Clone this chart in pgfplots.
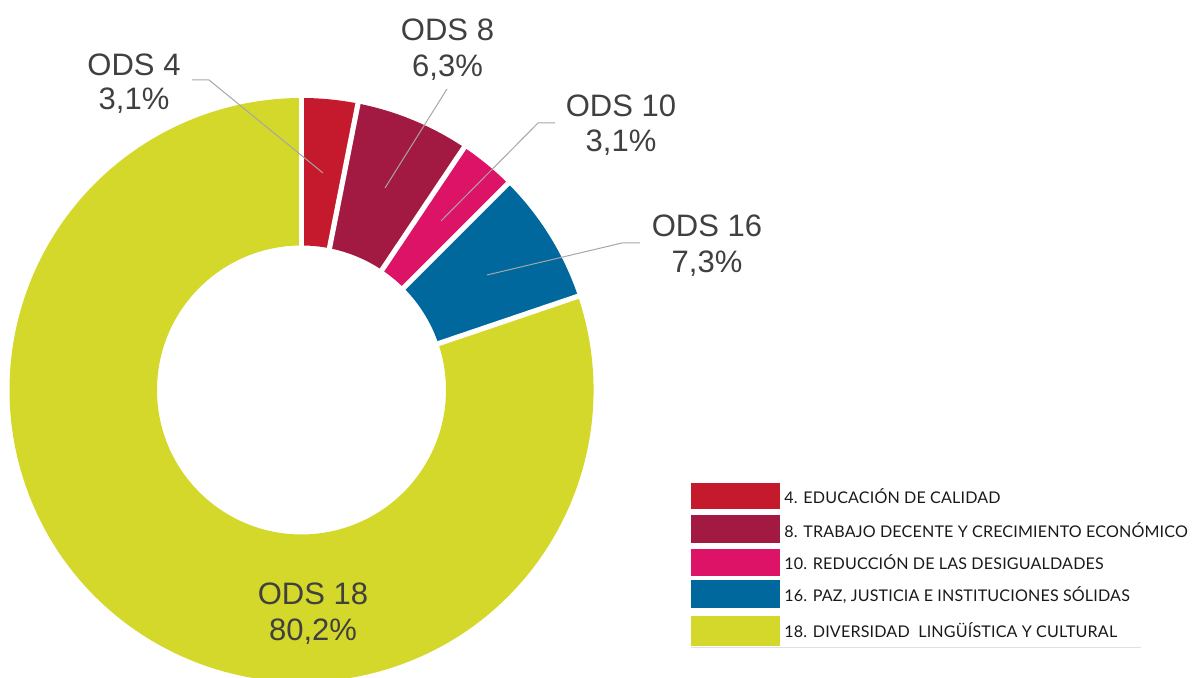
\documentclass[border=0pt]{standalone}
\usepackage{pgfplots}
\pgfplotsset{compat=1.18}
\usepackage{fontspec}
\setmainfont{Liberation Sans}
\newfontfamily\legfont[LetterSpace=1]{Lato}
\definecolor{odsA}{HTML}{C5192D}
\definecolor{odsB}{HTML}{A21942}
\definecolor{odsC}{HTML}{DD1367}
\definecolor{odsD}{HTML}{00689D}
\definecolor{odsE}{HTML}{D4D82A}
\definecolor{lbl}{HTML}{404040}
\definecolor{lead}{HTML}{A6A6A6}
% slice: colour, start %, end % (clockwise from the top)
\newcommand\slice[3]{%
  \fill[#1] (axis cs:{301.5+292*cos(90-3.6*#2)},{288+292*sin(90-3.6*#2)})
    arc[start angle={90-3.6*#2}, end angle={90-3.6*#3}, radius=146pt]
    -- (axis cs:{301.5+144.5*cos(90-3.6*#3)},{288+144.5*sin(90-3.6*#3)})
    arc[start angle={90-3.6*#3}, end angle={90-3.6*#2}, radius=72.25pt] -- cycle;}
\newcommand\gap[1]{%
  \draw[white, line width=2.6pt] (axis cs:301.5,288) -- (axis cs:{301.5+300*cos(90-3.6*#1)},{288+300*sin(90-3.6*#1)});}
\begin{document}
\begin{tikzpicture}
\begin{axis}[
  x=0.5pt, y=0.5pt,
  xmin=0, xmax=1195, ymin=0, ymax=678,
  hide axis,
]
\path (axis cs:0,0) rectangle (axis cs:1195,678);
% values: 3.1, 6.3, 3.1, 7.3, 80.2 (cumulative 3.1, 9.4, 12.5, 19.8, 100)
\slice{odsA}{0}{3.1}
\slice{odsB}{3.1}{9.4}
\slice{odsC}{9.4}{12.5}
\slice{odsD}{12.5}{19.8}
\slice{odsE}{19.8}{100}
\gap{0}\gap{3.1}\gap{9.4}\gap{12.5}\gap{19.8}
% leader lines
\draw[lead, line width=0.5pt] (axis cs:192,598) -- (axis cs:209,598) -- (axis cs:323,505);
\draw[lead, line width=0.5pt] (axis cs:447,589) -- (axis cs:385,490);
\draw[lead, line width=0.5pt] (axis cs:555,555) -- (axis cs:538,555) -- (axis cs:441,457);
\draw[lead, line width=0.5pt] (axis cs:640,435) -- (axis cs:622,435) -- (axis cs:487,403);
% labels
\begin{scope}[every node/.style={anchor=base, inner sep=0pt, text=lbl, font=\fontsize{15.5pt}{17.5pt}\selectfont}]
\node at (axis cs:134,602) {ODS 4};
\node at (axis cs:134,568) {3,1\%};
\node at (axis cs:447.5,637) {ODS 8};
\node at (axis cs:447.5,601) {6,3\%};
\node at (axis cs:621,561) {ODS 10};
\node at (axis cs:621,526) {3,1\%};
\node at (axis cs:707,441) {ODS 16};
\node at (axis cs:707,405) {7,3\%};
\node at (axis cs:313,73) {ODS 18};
\node at (axis cs:313,37) {80,2\%};
\end{scope}
% legend
\fill[odsA] (axis cs:691,195) rectangle (axis cs:780,169);
\fill[odsB] (axis cs:691,163) rectangle (axis cs:780,135);
\fill[odsC] (axis cs:691,129) rectangle (axis cs:780,102);
\fill[odsD] (axis cs:691,98) rectangle (axis cs:780,70);
\fill[odsE] (axis cs:691,62) rectangle (axis cs:780,32);
\draw[black!12, line width=0.4pt] (axis cs:691,31) -- (axis cs:1141,31);
\begin{scope}[every node/.style={anchor=base west, inner sep=0pt, text=black!90, font=\legfont\fontsize{8.05pt}{10pt}\selectfont}]
\node at (axis cs:784,174) {4. EDUCACIÓN DE CALIDAD};
\node at (axis cs:784,140) {8. TRABAJO DECENTE Y CRECIMIENTO ECONÓMICO};
\node at (axis cs:784,108) {10. REDUCCIÓN DE LAS DESIGUALDADES};
\node at (axis cs:784,76) {16. PAZ, JUSTICIA E INSTITUCIONES SÓLIDAS};
\node at (axis cs:784,40) {18. DIVERSIDAD \ LINGÜÍSTICA Y CULTURAL};
\end{scope}
\end{axis}
\end{tikzpicture}
\end{document}
